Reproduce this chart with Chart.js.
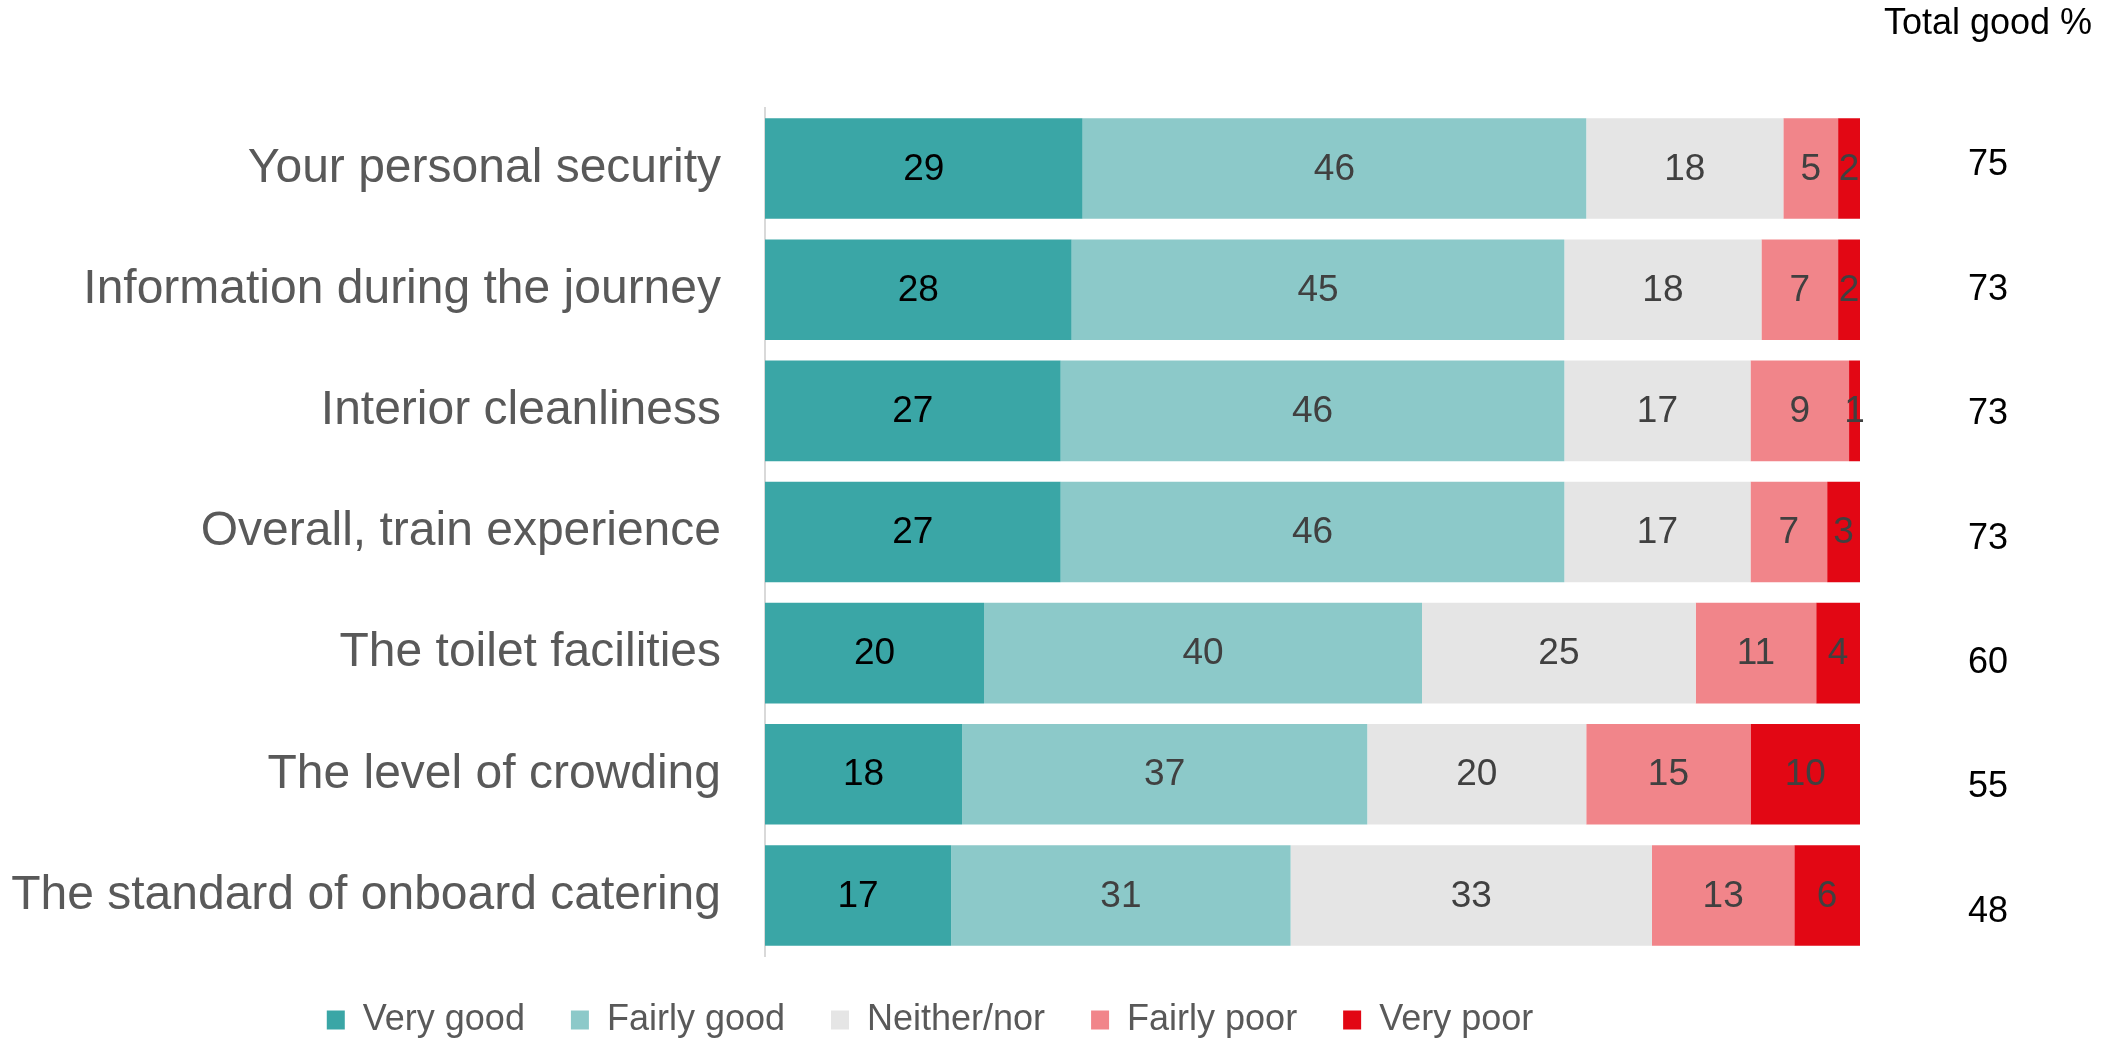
<!DOCTYPE html>
<html lang="en">
<head>
    <meta charset="UTF-8">
    <title>Train experience ratings</title>
    <script src="https://cdn.jsdelivr.net/npm/chart.js"></script>
    <style>
        body {
            margin: 0;
            background: #ffffff;
        }
        .chart-box {
            width: 2123px;
            height: 1045px;
        }
    </style>
</head>
<body>
    <div class="chart-box">
        <canvas id="ratingsChart" width="2123" height="1045"></canvas>
    </div>
    <script>
        const categories = [
            "Your personal security",
            "Information during the journey",
            "Interior cleanliness",
            "Overall, train experience",
            "The toilet facilities",
            "The level of crowding",
            "The standard of onboard catering"
        ];
        const veryGood = [29, 28, 27, 27, 20, 18, 17];
        const fairlyGood = [46, 45, 46, 46, 40, 37, 31];
        const neitherNor = [18, 18, 17, 17, 25, 20, 33];
        const fairlyPoor = [5, 7, 9, 7, 11, 15, 13];
        const veryPoor = [2, 2, 1, 3, 4, 10, 6];
        const totalGood = [75, 73, 73, 73, 60, 55, 48];
        const totalHeader = "Total good %";

        const FONT = "'Liberation Sans', Arial, sans-serif";

        // value labels in the middle of each segment
        const segmentLabels = {
            id: "segmentLabels",
            afterDatasetsDraw(chart) {
                const ctx = chart.ctx;
                ctx.save();
                ctx.font = "37px " + FONT;
                ctx.textAlign = "center";
                ctx.textBaseline = "middle";
                chart.data.datasets.forEach((ds, di) => {
                    const meta = chart.getDatasetMeta(di);
                    if (meta.hidden) return;
                    ctx.fillStyle = di === 0 ? "#000000" : "#404040";
                    meta.data.forEach((bar, i) => {
                        const cx = (bar.x + bar.base) / 2;
                        ctx.fillText(ds.data[i], cx, bar.y + 1);
                    });
                });
                ctx.restore();
            }
        };

        // "Total good %" column to the right of the bars
        const totalColumn = {
            id: "totalColumn",
            afterDraw(chart) {
                const ctx = chart.ctx;
                const yScale = chart.scales.y;
                const colX = 1988;
                ctx.save();
                ctx.font = "36px " + FONT;
                ctx.fillStyle = "#000000";
                ctx.textAlign = "center";
                ctx.textBaseline = "middle";
                ctx.fillText(totalHeader, colX, 24);
                totalGood.forEach((v, i) => {
                    const y = yScale.getPixelForValue(i) + i * 3.2 - 3;
                    ctx.fillText(v, colX, y);
                });
                ctx.restore();
            }
        };

        const ctx = document.getElementById("ratingsChart").getContext("2d");

        new Chart(ctx, {
            type: "bar",
            data: {
                labels: categories,
                datasets: [
                    { label: "Very good", data: veryGood, backgroundColor: "#3aa6a6" },
                    { label: "Fairly good", data: fairlyGood, backgroundColor: "#8cc9c9" },
                    { label: "Neither/nor", data: neitherNor, backgroundColor: "#e5e5e5" },
                    { label: "Fairly poor", data: fairlyPoor, backgroundColor: "#f1858a" },
                    { label: "Very poor", data: veryPoor, backgroundColor: "#e20714" }
                ]
            },
            options: {
                indexAxis: "y",
                responsive: false,
                animation: false,
                datasets: {
                    bar: {
                        barPercentage: 0.83,
                        categoryPercentage: 1,
                        borderWidth: 0
                    }
                },
                layout: {
                    padding: { top: 108, right: 263, left: 0, bottom: -3 }
                },
                scales: {
                    x: {
                        stacked: true,
                        min: 0,
                        max: 100,
                        display: false
                    },
                    y: {
                        stacked: true,
                        grid: { display: false, drawTicks: false },
                        border: { display: true, color: "#d9d9d9", width: 2 },
                        ticks: {
                            padding: 44,
                            color: "#595959",
                            font: { family: FONT, size: 48 }
                        },
                        afterFit(scale) {
                            scale.width = 765;
                        }
                    }
                },
                plugins: {
                    legend: {
                        position: "bottom",
                        labels: {
                            color: "#595959",
                            font: { family: FONT, size: 36 },
                            boxWidth: 18,
                            boxHeight: 19,
                            padding: 46
                        }
                    },
                    tooltip: { enabled: false }
                }
            },
            plugins: [segmentLabels, totalColumn]
        });
    </script>
</body>
</html>
